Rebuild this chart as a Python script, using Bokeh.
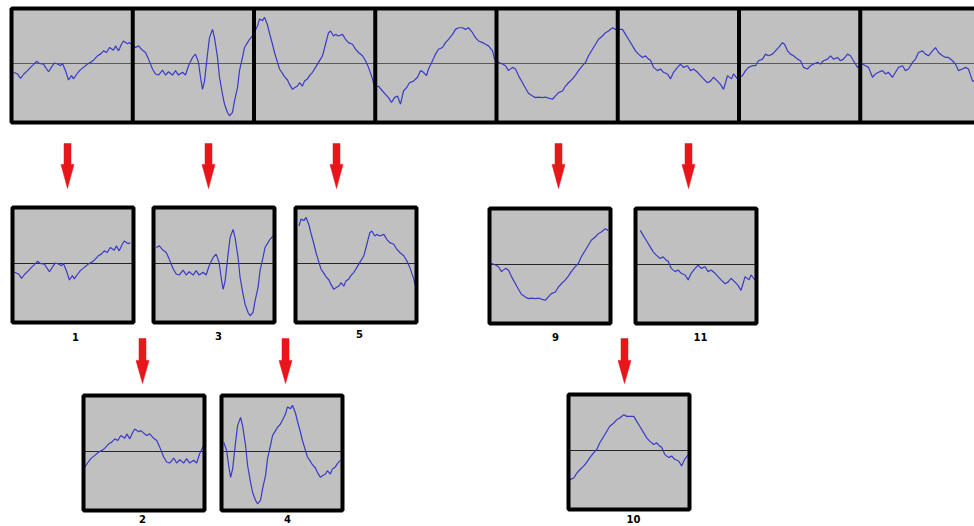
from bokeh.plotting import figure
from bokeh.models import Range1d
from bokeh.embed import file_html
from bokeh.resources import INLINE
from bokeh.core.properties import value

# ---------------- data: one recording, read off the top strip ----------------
# sample index (window = 121.25 samples) and amplitude (fraction of full scale)
p1_time = [2, 6, 9, 12, 16, 19, 22, 25, 28, 32, 34, 37, 41, 43, 46, 49, 51, 54, 57, 60,
           62, 65, 68, 72, 76, 79, 82, 86, 89, 92, 95, 98, 102, 104, 107, 110, 112, 116, 118]
p1_amp = [-0.16, -0.19, -0.27, -0.2, -0.13, -0.07, -0.02, 0.04, 0, -0.01, -0.07, -0.15, -0.04, 0.01,
          -0.01, -0.04, 0, -0.13, -0.3, -0.22, -0.28, -0.2, -0.13, -0.07, -0.01, 0.02, 0.06, 0.14,
          0.17, 0.23, 0.2, 0.29, 0.24, 0.32, 0.23, 0.35, 0.41, 0.36, 0.38]

p2_time = [124, 127, 131, 134, 137, 141, 144, 147, 151, 154, 157, 161, 164, 167, 171, 174, 177, 181,
           184, 187, 189, 191, 193, 196, 198, 201, 203, 206, 208, 211, 213, 216, 218, 221, 223, 226,
           228, 231, 233, 236, 238, 241]
p2_amp = [0.29, 0.32, 0.24, 0.2, 0.08, -0.1, -0.19, -0.21, -0.12, -0.21, -0.15, -0.21, -0.13, -0.21,
          -0.16, -0.21, -0.04, 0.11, 0.17, 0.02, -0.25, -0.47, -0.32, 0.17, 0.47, 0.62, 0.47, 0.11,
          -0.25, -0.56, -0.74, -0.89, -0.95, -0.89, -0.68, -0.44, -0.13, 0.11, 0.29, 0.38, 0.44, 0.5]

p3_time = [246, 248, 251, 253, 256, 258, 261, 263, 266, 268, 271, 273, 276, 278, 281, 283, 286, 288,
           291, 293, 296, 298, 301, 304, 307, 311, 314, 317, 319, 322, 324, 327, 331, 334, 337, 341,
           344, 347, 351, 354, 357, 361, 363]
p3_amp = [0.68, 0.81, 0.78, 0.84, 0.7, 0.55, 0.35, 0.2, 0.02, -0.1, -0.18, -0.24, -0.3, -0.38, -0.47,
          -0.44, -0.41, -0.35, -0.41, -0.32, -0.28, -0.22, -0.16, -0.07, 0.02, 0.14, 0.35, 0.56, 0.59,
          0.5, 0.53, 0.5, 0.53, 0.44, 0.38, 0.35, 0.26, 0.2, 0.14, 0.05, -0.07, -0.28, -0.44]

p4_time = [367, 371, 374, 377, 380, 383, 386, 389, 392, 395, 398, 402, 406, 409, 412, 415, 417, 421,
           424, 427, 431, 434, 437, 441, 444, 447, 451, 454, 457, 461, 464, 467, 471, 474, 477, 481, 483]
p4_amp = [-0.41, -0.5, -0.56, -0.62, -0.71, -0.62, -0.59, -0.74, -0.5, -0.44, -0.35, -0.32, -0.25,
          -0.13, -0.16, -0.22, -0.1, 0.05, 0.17, 0.26, 0.29, 0.38, 0.44, 0.53, 0.62, 0.65, 0.65, 0.62,
          0.65, 0.56, 0.47, 0.41, 0.38, 0.35, 0.32, 0.23, 0.08]

p5_time = [487, 491, 494, 497, 501, 504, 507, 511, 514, 517, 521, 524, 527, 531, 534, 537, 541, 544,
           547, 551, 554, 557, 561, 564, 567, 571, 574, 577, 581, 584, 587, 591, 594, 597, 601, 604]
p5_amp = [0.02, -0.01, -0.04, -0.13, -0.07, -0.1, -0.22, -0.35, -0.45, -0.54, -0.59, -0.62, -0.61,
          -0.62, -0.61, -0.63, -0.65, -0.59, -0.53, -0.5, -0.41, -0.35, -0.28, -0.21, -0.13, -0.04,
          0.02, 0.14, 0.26, 0.35, 0.44, 0.5, 0.56, 0.59, 0.65, 0.62]

p6_time = [611, 614, 617, 621, 624, 627, 631, 634, 637, 639, 642, 646, 649, 652, 656, 659, 662, 666,
           669, 672, 676, 679, 682, 686, 689, 692, 696, 699, 702, 706, 709, 712, 714, 716, 720, 722, 726]
p6_amp = [0.62, 0.53, 0.44, 0.32, 0.23, 0.17, 0.11, 0.14, 0.08, 0.06, -0.07, -0.13, -0.1, -0.16,
          -0.19, -0.28, -0.16, -0.07, -0.01, -0.07, -0.04, -0.13, -0.1, -0.16, -0.22, -0.28, -0.35,
          -0.32, -0.25, -0.32, -0.38, -0.47, -0.35, -0.22, -0.28, -0.19, -0.28]

p7_time = [731, 734, 737, 741, 744, 747, 751, 754, 757, 761, 764, 767, 771, 773, 776, 779, 782, 786,
           789, 792, 796, 799, 802, 806, 809, 812, 816, 819, 822, 826, 829, 832, 836, 839, 842, 846]
p7_amp = [-0.22, -0.13, -0.07, -0.04, -0.04, 0.05, 0.08, 0.17, 0.14, 0.17, 0.23, 0.29, 0.38, 0.35,
          0.23, 0.17, 0.14, 0.08, 0.05, -0.07, -0.1, -0.04, -0.01, 0.02, -0.01, 0.05, 0.08, 0.14,
          0.08, 0.11, 0.05, 0.08, 0.17, 0.14, 0.05, -0.07]

p8_time = [851, 854, 857, 861, 864, 867, 871, 874, 877, 881, 884, 887, 891, 894, 897, 901, 904, 907,
           911, 914, 917, 921, 924, 927, 931, 934, 937, 941, 944, 947, 951, 954, 957, 961, 963]
p8_amp = [-0.01, -0.04, -0.07, -0.25, -0.19, -0.16, -0.13, -0.19, -0.16, -0.25, -0.16, -0.07, -0.04,
          -0.13, -0.1, 0.02, 0.08, 0.2, 0.23, 0.17, 0.14, 0.23, 0.29, 0.2, 0.14, 0.11, 0.11, 0.05,
          -0.01, -0.13, -0.1, -0.07, -0.1, -0.32, -0.32]

WINDOW = 121.25            # samples per frame
N_FRAMES = 8               # frames shown in the strip
FRAME_LABELS = [1, 3, 5, 9, 11, 2, 4, 10]   # frame n starts at (n-1)*WINDOW/2 (50% overlap)

time = p1_time + p2_time + p3_time + p4_time + p5_time + p6_time + p7_time + p8_time
amp = p1_amp + p2_amp + p3_amp + p4_amp + p5_amp + p6_amp + p7_amp + p8_amp

# ---------------- layout (page pixels) ----------------
GRAY = "#c0c0c0"
BLUE = "#3a3ac6"
RED = "#e8151b"
AMP_PX = 55

STRIP_X0, STRIP_Y0, STRIP_H, STRIP_PITCH, STRIP_CDY = 11, 8, 114, 121.25, 55
FRAME_W, FRAME_H, FRAME_CDY = 121, 115, 56
FRAME_POS = {1: (12, 207), 3: (153, 207), 5: (295, 207), 9: (489, 208), 11: (635, 208),
             2: (83, 395), 4: (221, 395), 10: (568, 394)}
LABEL_POS = {1: (75, 336), 3: (218, 335), 5: (359, 333), 9: (555, 336), 11: (700, 336),
             2: (142, 518), 4: (287, 518), 10: (633, 518)}
ARROWS_ROW1 = [67, 208, 336, 558, 688]
ARROWS_ROW2 = [142, 285, 624]

p = figure(width=974, height=526, x_range=Range1d(0, 974), y_range=Range1d(526, 0),
           x_axis_type=None, y_axis_type=None, toolbar_location=None, output_backend="svg",
           min_border=0, outline_line_color=None,
           background_fill_color="white", border_fill_color="white")


def draw_trace(x0, y0, w, h, cdy, t0, t1, axis_color):
    p.quad(left=[x0], right=[x0 + w], top=[y0], bottom=[y0 + h],
           fill_color=GRAY, line_color=None)
    cy = y0 + cdy
    sub = p.subplot(x_source=Range1d(t0, t1), y_source=Range1d(-1, 1),
                    x_target=Range1d(x0, x0 + w), y_target=Range1d(cy + AMP_PX, cy - AMP_PX))
    sub.line(x=[t0, t1], y=[0, 0], line_color=axis_color, line_width=1)
    sel = [(t, a) for t, a in zip(time, amp) if t0 <= t <= t1]
    sub.line(x=[s[0] for s in sel], y=[s[1] for s in sel], line_color=BLUE, line_width=1.2)


# top strip
strip_w = STRIP_PITCH * N_FRAMES
draw_trace(STRIP_X0, STRIP_Y0, strip_w, STRIP_H, STRIP_CDY, 0, WINDOW * N_FRAMES, "#5a5a5a")
p.quad(left=[STRIP_X0], right=[STRIP_X0 + strip_w], top=[STRIP_Y0], bottom=[STRIP_Y0 + STRIP_H],
       fill_color=None, line_color="black", line_width=4)
div_x = [STRIP_X0 + k * STRIP_PITCH for k in range(1, N_FRAMES)]
p.segment(x0=div_x, x1=div_x, y0=[STRIP_Y0] * len(div_x), y1=[STRIP_Y0 + STRIP_H] * len(div_x),
          line_color="black", line_width=4)

# extracted frames
for n in FRAME_LABELS:
    fx, fy = FRAME_POS[n]
    start = (n - 1) * WINDOW / 2
    draw_trace(fx, fy, FRAME_W, FRAME_H, FRAME_CDY, start, start + WINDOW, "#262626")
    p.quad(left=[fx], right=[fx + FRAME_W], top=[fy], bottom=[fy + FRAME_H],
           fill_color=None, line_color="black", line_width=4)

p.text(x=[LABEL_POS[n][0] for n in FRAME_LABELS], y=[LABEL_POS[n][1] for n in FRAME_LABELS],
       text=[str(n) for n in FRAME_LABELS], text_font=value("DejaVu Sans"),
       text_font_size="10px", text_font_style="bold", text_color="black",
       text_align="center", text_baseline="middle")


def arrow_shapes(xs_c, top, base, tip):
    xs, ys = [], []
    for c in xs_c:
        xs.append([c - 3.5, c + 3.5, c + 3.5, c + 6.5, c, c - 6.5, c - 3.5])
        ys.append([top, top, base, base, tip, base, base])
    return xs, ys


ax1, ay1 = arrow_shapes(ARROWS_ROW1, 143, 164, 188)
ax2, ay2 = arrow_shapes(ARROWS_ROW2, 338, 360, 383)
p.patches(xs=ax1 + ax2, ys=ay1 + ay2, fill_color=RED, line_color=RED, line_width=0.5)

open("out.html", "w").write(file_html(p, INLINE))
